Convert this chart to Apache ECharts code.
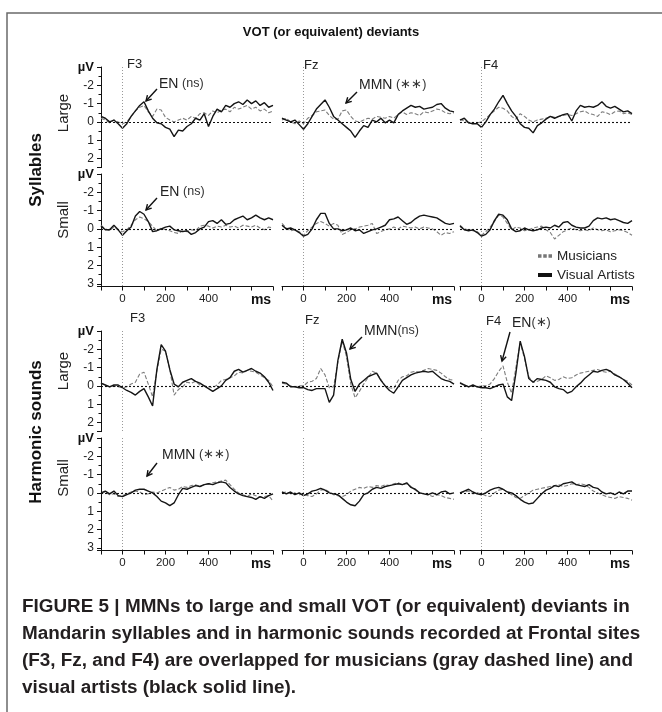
<!DOCTYPE html>
<html>
<head>
<meta charset="utf-8">
<title>VOT (or equivalent) deviants</title>
<script src="https://cdn.jsdelivr.net/npm/echarts@6.0.0/dist/echarts.min.js"></script>
<style>
  html, body { margin: 0; padding: 0; background: #fff; }
  #chart { width: 662px; height: 712px; }
</style>
</head>
<body>
<div id="chart"></div>
<script>
// time axis (ms) shared by every trace
const times = [-100, -80, -60, -40, -20, 0, 20, 40, 60, 80, 100, 120, 140, 160, 180, 200,
  220, 240, 260, 280, 300, 320, 340, 360, 380, 400, 420, 440, 460, 480, 500, 520, 540,
  560, 580, 600, 620, 640, 660, 680, 700];

const electrodes = ['F3', 'Fz', 'F4'];
const xTickLabels = [0, 200, 400];

// Syllables, large deviant
const f3SylLargeMus = [-0.2, -0.1, 0.05, -0.1, 0, 0.1, 0, -0.3, -0.6, -0.8, -0.9, -0.55, -0.3, -0.7, -0.65, -0.25, -0.1, 0, -0.1, -0.2, -0.1, -0.3, -0.2, -0.45, -0.5, -0.35, -0.6, -0.5, -0.65, -0.7, -0.55, -0.8, -0.7, -0.8, -0.9, -0.7, -0.8, -0.6, -0.7, -0.5, -0.6];
const f3SylLargeArt = [-0.3, -0.2, 0, -0.1, 0.1, 0.35, 0.1, -0.3, -0.6, -0.9, -1.1, -0.6, -0.2, 0.05, 0.1, 0.3, 0.4, 0.8, 0.45, 0.5, 0.25, 0.1, -0.2, -0.1, -0.45, 0.25, -0.3, -0.7, -0.55, -0.9, -0.8, -1.0, -1.1, -0.95, -1.2, -1.0, -1.15, -0.9, -1.05, -0.8, -0.9];
const fzSylLargeMus = [-0.1, -0.2, 0, 0.1, -0.05, 0.1, -0.2, -0.35, -0.55, -0.6, -0.65, -0.35, -0.15, -0.15, -0.6, -0.65, -0.3, -0.05, 0, -0.1, -0.2, -0.15, -0.3, -0.25, -0.2, -0.3, -0.2, -0.4, -0.55, -0.4, -0.5, -0.45, -0.35, -0.55, -0.5, -0.6, -0.7, -0.65, -0.5, -0.45, -0.5];
const fzSylLargeArt = [-0.2, -0.1, 0, -0.1, 0.15, 0.4, 0.1, -0.3, -0.7, -0.95, -1.2, -0.8, -0.3, -0.1, 0.1, 0.3, 0.5, 0.85, 0.5, 0.2, 0.3, -0.1, 0, -0.2, 0.05, -0.1, 0.05, -0.4, -0.6, -0.75, -0.9, -0.8, -0.85, -0.7, -0.75, -0.8, -0.95, -1.0, -0.75, -0.6, -0.55];
const f4SylLargeMus = [-0.15, -0.05, 0.05, 0.1, 0.05, 0, -0.2, -0.4, -0.6, -0.8, -0.75, -0.6, -0.3, -0.15, -0.45, -0.3, -0.1, 0, -0.1, -0.15, -0.2, -0.3, -0.25, -0.3, -0.35, -0.4, -0.35, -0.45, -0.55, -0.6, -0.45, -0.4, -0.3, -0.55, -0.5, -0.4, -0.55, -0.6, -0.45, -0.5, -0.4];
const f4SylLargeArt = [-0.1, -0.2, 0.05, 0.1, 0.1, 0.3, 0, -0.4, -0.7, -1.1, -1.45, -1.0, -0.6, -0.3, 0.1, 0.3, 0.35, 0.6, 0.2, 0.05, -0.15, -0.3, -0.2, -0.3, -0.4, -0.45, -0.05, -0.6, -0.9, -0.8, -0.85, -0.8, -0.9, -1.1, -0.85, -0.75, -0.85, -0.7, -0.55, -0.6, -0.45];

// Syllables, small deviant
const f3SylSmallMus = [-0.2, 0, 0.1, -0.1, 0.05, 0.15, 0.05, -0.2, -0.5, -0.65, -0.55, -0.4, -0.15, 0.1, -0.05, 0.05, 0.1, 0.2, 0.25, 0.1, 0.15, 0.05, 0.1, -0.15, -0.2, -0.15, -0.05, -0.15, -0.1, -0.2, -0.1, -0.15, -0.05, -0.2, -0.15, -0.1, -0.2, -0.05, 0.05, -0.1, -0.05];
const f3SylSmallArt = [-0.15, 0.05, 0.05, -0.2, 0.05, 0.35, 0.1, -0.1, -0.7, -0.95, -0.8, -0.4, 0.15, 0.1, 0, -0.1, -0.15, 0.05, 0.1, 0.15, 0.1, 0.3, 0.2, 0, -0.1, -0.4, -0.45, -0.3, -0.5, -0.25, -0.3, -0.5, -0.6, -0.7, -0.5, -0.6, -0.75, -0.6, -0.5, -0.6, -0.5];
const fzSylSmallMus = [-0.3, -0.05, 0.1, 0.05, 0.15, 0.35, 0.1, -0.1, -0.3, -0.4, -0.3, -0.15, -0.3, -0.2, 0.3, 0.2, 0.05, 0, -0.1, -0.15, -0.2, -0.3, 0.25, 0.15, 0.05, 0, -0.1, 0, -0.15, -0.1, -0.05, -0.1, 0, -0.1, -0.05, 0, 0.15, 0.35, 0.2, 0.25, 0.15];
const fzSylSmallArt = [-0.2, 0, -0.05, 0.05, 0.2, 0.4, 0.3, 0, -0.5, -0.85, -0.85, -0.3, 0, 0, 0.1, 0.05, -0.05, 0.1, 0.05, 0.25, 0.15, 0.05, 0, -0.1, -0.2, -0.5, -0.55, -0.65, -0.45, -0.25, -0.35, -0.55, -0.7, -0.75, -0.7, -0.65, -0.6, -0.45, -0.3, -0.25, -0.3];
const f4SylSmallMus = [-0.2, 0, 0.05, 0.1, 0.15, 0.35, 0.15, -0.1, -0.4, -0.75, -0.65, -0.3, 0.05, -0.1, -0.05, 0.1, 0.05, -0.05, -0.1, -0.15, 0.05, 0.2, 0.55, 0.35, 0.15, 0.05, -0.05, 0.05, 0.1, 0.05, 0.1, -0.05, 0.05, 0.1, 0.05, 0.15, 0.1, 0.05, 0.1, 0.2, 0.35];
const f4SylSmallArt = [-0.15, 0.05, 0.1, 0.05, 0.2, 0.4, 0.3, 0.05, -0.45, -0.8, -0.75, -0.5, 0, 0.15, 0.1, -0.05, 0.05, 0.1, 0.05, -0.05, -0.1, -0.05, -0.2, -0.1, -0.35, -0.4, -0.2, -0.1, -0.05, -0.05, -0.15, -0.45, -0.6, -0.55, -0.6, -0.5, -0.55, -0.45, -0.35, -0.3, -0.45];

// Harmonic sounds, large deviant
const f3HarLargeMus = [-0.15, -0.05, 0.05, 0, 0.05, 0.1, 0.05, -0.1, -0.2, -0.65, -0.75, -0.1, 0.6, -0.8, -2.0, -1.9, -0.9, 0.5, 0.2, 0.05, -0.2, -0.15, -0.25, -0.05, 0, 0.05, 0.1, -0.05, -0.3, -0.35, -0.45, -0.55, -0.75, -0.7, -0.85, -0.8, -0.75, -0.6, -0.45, -0.3, 0.05];
const f3HarLargeArt = [-0.15, -0.05, 0.05, -0.05, -0.05, 0.1, 0.25, 0.35, 0.5, 0.3, 0.15, 0.6, 1.1, -0.9, -2.25, -1.9, -0.9, -0.1, 0.05, -0.2, -0.3, -0.4, -0.25, -0.15, 0, 0.15, 0.3, 0.15, 0, -0.3, -0.45, -0.8, -0.9, -0.75, -0.85, -0.95, -0.8, -0.7, -0.5, -0.2, 0.25];
const fzHarLargeMus = [-0.15, -0.1, 0, 0.05, 0, 0, -0.2, -0.25, -0.4, -0.95, -0.6, 0.1, 0.05, -1.3, -2.45, -1.6, -0.1, 0.65, 0.3, -0.1, -0.45, -0.8, -0.7, -0.35, 0, 0.1, 0.15, -0.3, -0.5, -0.55, -0.75, -0.8, -0.75, -0.85, -0.95, -0.9, -0.85, -0.7, -0.5, -0.35, -0.3];
const fzHarLargeArt = [-0.2, -0.15, 0.05, 0.05, 0.1, 0.1, 0.2, 0.25, 0.15, 0.15, 0.15, 0.9, 0.5, -1.4, -2.55, -1.8, -0.35, 0.3, -0.1, -0.3, -0.5, -0.6, -0.7, -0.3, 0, 0.25, 0.4, 0.05, -0.3, -0.45, -0.6, -0.7, -0.75, -0.8, -0.75, -0.8, -0.6, -0.4, -0.3, -0.25, -0.1];
const f4HarLargeMus = [-0.2, -0.05, 0.05, 0, 0.05, 0, 0, -0.1, -0.4, -0.8, -1.1, -0.2, 0.4, -1.0, -2.35, -1.5, -0.5, -0.2, -0.25, -0.35, -0.55, -0.45, -0.3, -0.35, -0.5, -0.4, -0.45, -0.6, -0.7, -0.75, -0.8, -0.85, -0.9, -0.8, -0.75, -0.8, -0.65, -0.5, -0.35, -0.25, -0.05];
const f4HarLargeArt = [-0.15, -0.05, 0.05, -0.05, 0.05, 0.1, 0.1, 0.15, 0.05, -0.05, -0.1, 0.6, 0.8, -0.7, -2.45, -1.6, -0.4, -0.2, -0.4, -0.35, -0.3, -0.2, 0.05, 0.15, 0.2, 0.4, 0.3, 0.05, -0.15, -0.4, -0.6, -0.8, -0.75, -0.85, -0.9, -0.8, -0.6, -0.5, -0.35, -0.15, 0.1];

// Harmonic sounds, small deviant
const f3HarSmallMus = [0.05, -0.05, 0.1, 0.05, 0.2, 0.15, 0.05, -0.05, -0.1, -0.05, 0.1, 0.05, -0.05, 0, -0.1, -0.2, -0.3, -0.15, -0.2, -0.35, -0.3, -0.4, -0.45, -0.35, -0.45, -0.5, -0.55, -0.6, -0.65, -0.7, -0.45, -0.2, 0, 0.1, 0.2, 0.05, 0.15, 0.25, 0.2, 0.15, 0.45];
const f3HarSmallArt = [0, -0.1, 0.05, -0.1, 0.15, 0.2, 0.1, 0, -0.15, -0.2, -0.2, -0.1, 0, 0.2, 0.45, 0.55, 0.7, 0.55, 0.1, -0.25, -0.2, -0.3, -0.4, -0.35, -0.45, -0.5, -0.45, -0.55, -0.6, -0.55, -0.3, -0.1, 0.05, 0.15, 0.2, 0.25, 0.35, 0.2, 0.3, 0.15, 0.05];
const fzHarSmallMus = [0, -0.05, 0.05, 0, 0.1, 0.05, 0.15, 0.2, 0.05, -0.15, -0.2, -0.05, 0.1, 0.15, 0.2, 0.1, -0.1, -0.2, -0.3, -0.25, -0.35, -0.3, -0.4, -0.35, -0.45, -0.4, -0.5, -0.55, -0.45, -0.5, -0.35, -0.15, 0, 0.05, 0.1, 0.2, 0.1, 0.15, 0.25, 0.3, 0.35];
const fzHarSmallArt = [-0.05, 0.05, -0.05, 0.1, 0, 0.15, 0.05, -0.1, -0.15, -0.25, -0.15, 0, 0.05, 0.1, 0.3, 0.5, 0.65, 0.7, 0.45, 0.1, 0, -0.2, -0.3, -0.25, -0.35, -0.4, -0.45, -0.5, -0.45, -0.55, -0.3, -0.2, 0, 0.05, 0.1, 0, 0.1, -0.05, -0.1, 0.05, 0];
const f4HarSmallMus = [0, -0.05, -0.1, 0.05, 0, 0.05, 0.15, 0.2, 0, -0.15, -0.2, -0.05, 0.1, 0.25, 0.3, 0.15, 0, -0.15, -0.2, -0.25, -0.3, -0.35, -0.4, -0.45, -0.35, -0.4, -0.5, -0.45, -0.5, -0.45, -0.3, -0.1, 0, 0.1, 0.2, 0.25, 0.3, 0.2, 0.25, 0.3, 0.4];
const f4HarSmallArt = [0, -0.1, -0.2, -0.05, 0.05, 0.1, 0, -0.15, -0.25, -0.3, -0.2, -0.05, 0, 0.15, 0.35, 0.5, 0.6, 0.55, 0.3, 0.05, -0.15, -0.25, -0.4, -0.35, -0.5, -0.55, -0.6, -0.45, -0.4, -0.35, -0.45, -0.3, -0.25, -0.05, 0.05, 0, 0.1, -0.05, 0.05, -0.1, -0.1];

// row-major: [musicians, visual artists]
const panels = [
  [f3SylLargeMus, f3SylLargeArt], [fzSylLargeMus, fzSylLargeArt], [f4SylLargeMus, f4SylLargeArt],
  [f3SylSmallMus, f3SylSmallArt], [fzSylSmallMus, fzSylSmallArt], [f4SylSmallMus, f4SylSmallArt],
  [f3HarLargeMus, f3HarLargeArt], [fzHarLargeMus, fzHarLargeArt], [f4HarLargeMus, f4HarLargeArt],
  [f3HarSmallMus, f3HarSmallArt], [fzHarSmallMus, fzHarSmallArt], [f4HarSmallMus, f4HarSmallArt]
];

const FONT = '"Liberation Sans", Arial, sans-serif';
const colLeft = [101, 282, 460];
const plotW = 172;
const rowTop = [67, 174, 331, 438];
const rowMax = [2.5, 3.15, 2.5, 3.15];
const pxPerUV = 18.3;

const grid = [], xAxis = [], yAxis = [], series = [];

panels.forEach(function (p, k) {
  const r = Math.floor(k / 3), c = k % 3;
  const bottomRow = r % 2 === 1;
  grid.push({ left: colLeft[c], top: rowTop[r], width: plotW, height: (rowMax[r] + 3) * pxPerUV });

  xAxis.push({
    gridIndex: k, type: 'value', min: -100, max: 700, interval: 100,
    show: bottomRow, position: 'bottom',
    name: 'ms', nameLocation: 'end', nameGap: -12,
    nameTextStyle: { fontFamily: FONT, fontWeight: 'bold', fontSize: 14, color: '#111',
      align: 'center', verticalAlign: 'top', padding: [7, 0, 0, 0] },
    axisLine: { onZero: false, lineStyle: { color: '#111', width: 1 } },
    axisTick: { length: 4, lineStyle: { color: '#111' } },
    axisLabel: {
      fontFamily: FONT, fontSize: 11.5, color: '#222', margin: 6,
      formatter: function (v) { return xTickLabels.indexOf(v) >= 0 ? String(v) : ''; }
    },
    splitLine: { show: false }
  });

  yAxis.push({
    gridIndex: k, type: 'value', inverse: true, min: -3, max: rowMax[r], interval: 1,
    show: c === 0,
    axisLine: { show: true, onZero: false, lineStyle: { color: '#111', width: 1 } },
    axisTick: { show: true, length: 4, lineStyle: { color: '#111' } },
    minorTick: { show: true, splitNumber: 2, length: 2.5, lineStyle: { color: '#111' } },
    axisLabel: {
      fontFamily: FONT, fontSize: 12, color: '#222', margin: 7,
      formatter: function (v) {
        if (v === -3) return '{u|µV}';
        return Number.isInteger(v) ? String(v) : '';
      },
      rich: { u: { fontFamily: FONT, fontWeight: 'bold', fontSize: 13, color: '#111' } }
    },
    splitLine: { show: false }
  });

  series.push({
    name: 'Musicians', type: 'line', xAxisIndex: k, yAxisIndex: k,
    showSymbol: false, animation: false, silent: true,
    lineStyle: { color: '#7d7d7d', width: 1.1, type: [4, 2] },
    itemStyle: { color: '#7d7d7d' },
    data: times.map(function (t, i) { return [t, p[0][i]]; })
  });
  series.push({
    name: 'Visual Artists', type: 'line', xAxisIndex: k, yAxisIndex: k,
    showSymbol: false, animation: false, silent: true,
    lineStyle: { color: '#151515', width: 1.4 },
    itemStyle: { color: '#151515' },
    data: times.map(function (t, i) { return [t, p[1][i]]; }),
    markLine: {
      silent: true, symbol: 'none', animation: false,
      label: { show: false },
      data: [
        { yAxis: 0, lineStyle: { color: '#111', type: [2, 2], width: 1.1 } },
        { xAxis: 0, lineStyle: { color: '#999', type: [1, 2], width: 1 } }
      ]
    }
  });
});

function txt(x, y, text, style) {
  return { type: 'text', x: x, y: y, silent: true,
    style: Object.assign({ text: text, fontFamily: FONT, fontSize: 13, fill: '#222',
      align: 'left', verticalAlign: 'middle' }, style || {}) };
}
function vtxt(x, y, text, style) {
  const t = txt(x, y, text, Object.assign({ align: 'center' }, style || {}));
  t.rotation = Math.PI / 2;
  return t;
}
function arrow(x1, y1, x2, y2) {
  const a = Math.atan2(y2 - y1, x2 - x1), h = 6, s = 0.5;
  return { type: 'group', silent: true, children: [
    { type: 'line', shape: { x1: x1, y1: y1, x2: x2, y2: y2 }, style: { stroke: '#111', lineWidth: 1.4 } },
    { type: 'polyline', shape: { points: [
      [x2 - h * Math.cos(a - s), y2 - h * Math.sin(a - s)], [x2, y2],
      [x2 - h * Math.cos(a + s), y2 - h * Math.sin(a + s)]] },
      style: { stroke: '#111', lineWidth: 1.4, fill: null } }
  ] };
}
const ann = { a: { fontFamily: FONT, fontSize: 14, fill: '#222' }, b: { fontFamily: FONT, fontSize: 12.5, fill: '#333' } };

const graphic = [
  { type: 'rect', silent: true, shape: { x: 7, y: 13, width: 660, height: 710 },
    style: { fill: null, stroke: '#6a6a6a', lineWidth: 1.5 } },
  txt(331, 32, 'VOT (or equivalent) deviants', { align: 'center', fontWeight: 'bold', fontSize: 13, fill: '#111' }),
  vtxt(36, 170, 'Syllables', { fontWeight: 'bold', fontSize: 17, fill: '#111' }),
  vtxt(36, 432, 'Harmonic sounds', { fontWeight: 'bold', fontSize: 17, fill: '#111' }),
  vtxt(64, 113, 'Large', { fontSize: 15 }),
  vtxt(64, 220, 'Small', { fontSize: 15 }),
  vtxt(64, 371, 'Large', { fontSize: 15 }),
  vtxt(64, 478, 'Small', { fontSize: 15 }),
  txt(127, 64, electrodes[0]), txt(304, 65, electrodes[1]), txt(483, 65, electrodes[2]),
  txt(130, 318, electrodes[0]), txt(305, 320, electrodes[1]), txt(486, 321, electrodes[2]),
  txt(159, 84, '{a|EN} {b|(ns)}', { rich: ann }),
  arrow(157, 89, 146, 101),
  txt(160, 192, '{a|EN} {b|(ns)}', { rich: ann }),
  arrow(157, 198, 146, 210),
  txt(359, 85, '{a|MMN} {b|(∗∗)}', { rich: ann }),
  arrow(357, 92, 346, 103),
  txt(364, 331, '{a|MMN}{b|(ns)}', { rich: ann }),
  arrow(362, 337, 350, 349),
  txt(512, 323, '{a|EN}{b|(∗)}', { rich: ann }),
  arrow(510, 332, 502, 361),
  txt(162, 455, '{a|MMN} {b|(∗∗)}', { rich: ann }),
  arrow(157, 463, 147, 476)
];

const caption = [
  'FIGURE 5 | MMNs to large and small VOT (or equivalent) deviants in',
  'Mandarin syllables and in harmonic sounds recorded at Frontal sites',
  '(F3, Fz, and F4) are overlapped for musicians (gray dashed line) and',
  'visual artists (black solid line).'
];
caption.forEach(function (line, i) {
  graphic.push(txt(22, 607 + i * 27, line, { fontWeight: 'bold', fontSize: 18.9, fill: '#231f20' }));
});

const chart = echarts.init(document.getElementById('chart'));
chart.setOption({
  backgroundColor: '#fff',
  animation: false,
  legend: {
    orient: 'vertical', left: 533, top: 244, itemGap: 5,
    itemWidth: 14, itemHeight: 4, selectedMode: false,
    textStyle: { fontFamily: FONT, fontSize: 13.5, color: '#222' },
    data: [
      { name: 'Musicians', icon: 'path://M0,0h4v4h-4z M6,0h4v4h-4z M12,0h4v4h-4z', itemStyle: { color: '#777' } },
      { name: 'Visual Artists', icon: 'rect', itemStyle: { color: '#111' } }
    ]
  },
  grid: grid,
  xAxis: xAxis,
  yAxis: yAxis,
  series: series,
  graphic: graphic
});
</script>
</body>
</html>
